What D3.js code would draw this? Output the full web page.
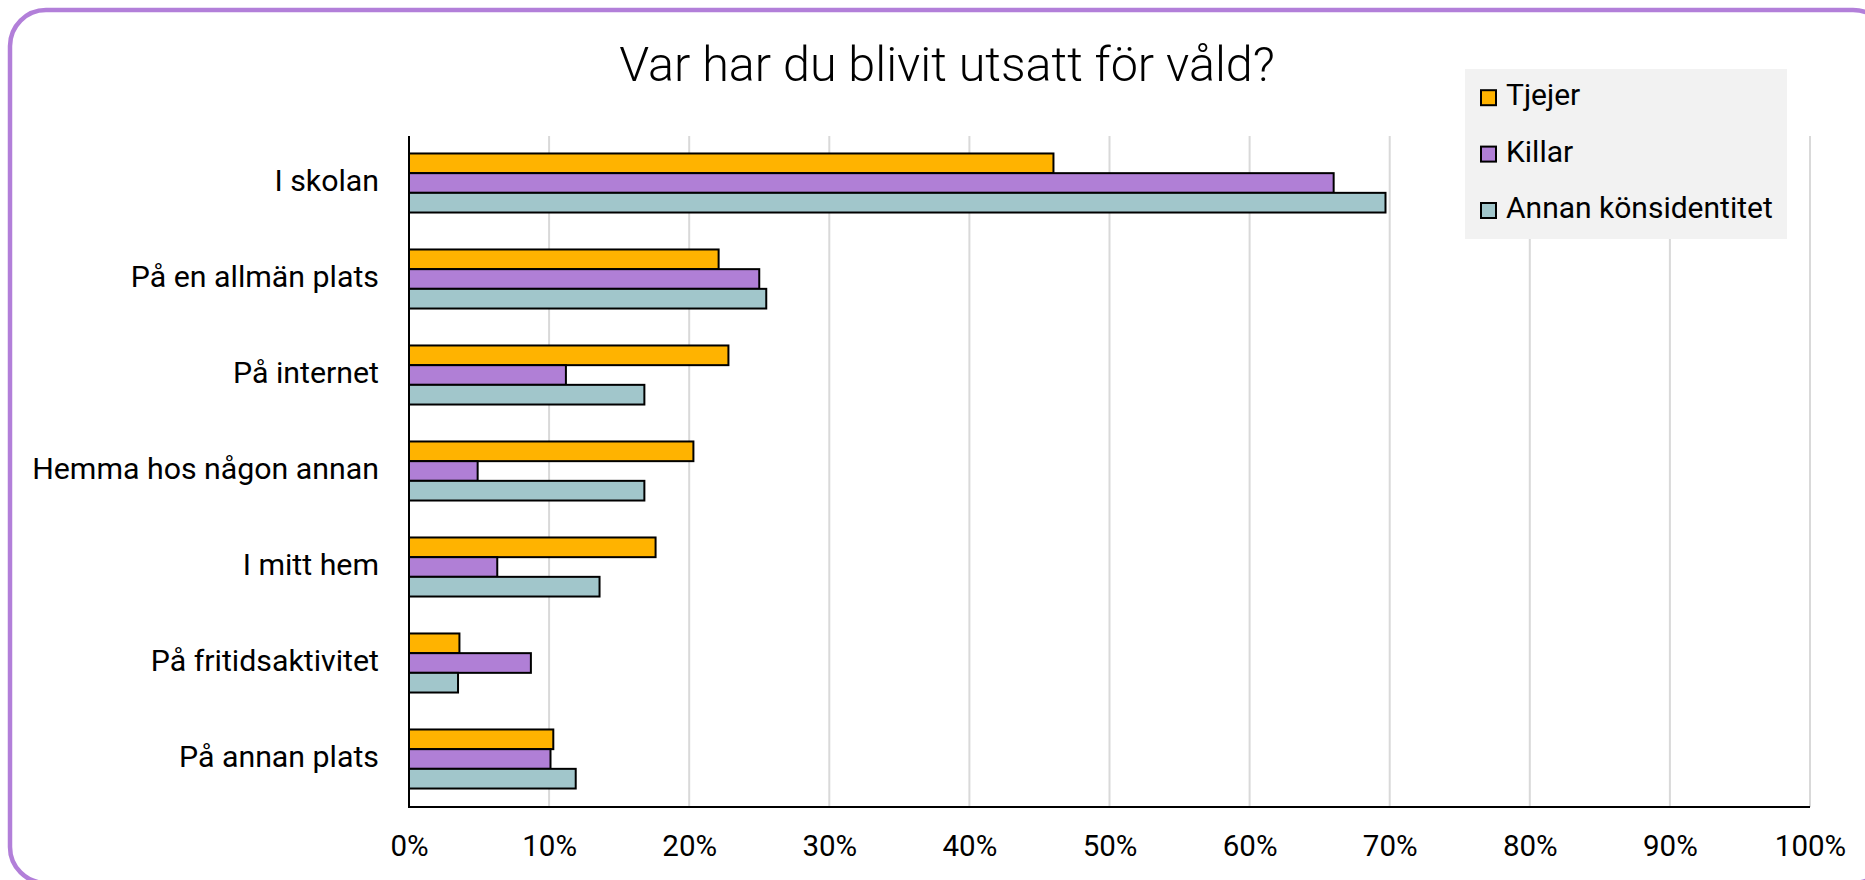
<!DOCTYPE html>
<html>
<head>
<meta charset="utf-8">
<script src="https://cdn.jsdelivr.net/npm/d3@7"></script>
<style>
    body { margin: 0; background: #fff; }
    svg { display: block; font-family: Roboto, "Noto Sans", sans-serif; }
</style>
</head>
<body>
<svg width="1865" height="880"></svg>
<script>
// data
var categories = ["I skolan", "På en allmän plats", "På internet", "Hemma hos någon annan",
    "I mitt hem", "På fritidsaktivitet", "På annan plats"];
var seriesNames = ["Tjejer", "Killar", "Annan könsidentitet"];
var tjejer = [0.46, 0.221, 0.228, 0.203, 0.176, 0.036, 0.103];
var killar = [0.66, 0.250, 0.112, 0.049, 0.063, 0.087, 0.101];
var annan = [0.697, 0.255, 0.168, 0.168, 0.136, 0.035, 0.119];
var xTicks = [0, 0.1, 0.2, 0.3, 0.4, 0.5, 0.6, 0.7, 0.8, 0.9, 1];
var colors = ["#FFB300", "#B07FD6", "#A1C6CB"];

var values = [tjejer, killar, annan];
var rows = categories.map(function (c, i) {
    return { cat: c, vals: values.map(function (s, j) { return { key: seriesNames[j], v: s[i] }; }) };
});

var svg = d3.select("svg");

// outer rounded frame
svg.append("rect")
    .attr("x", 10).attr("y", 10)
    .attr("width", 1879).attr("height", 873)
    .attr("rx", 36).attr("ry", 36)
    .attr("fill", "none")
    .attr("stroke", "#B27FD9")
    .attr("stroke-width", 4.5);

svg.append("text")
    .attr("x", 947)
    .attr("y", 81)
    .attr("text-anchor", "middle")
    .attr("font-size", 48.5)
    .attr("font-weight", 300)
    .attr("fill", "#000")
    .text("Var har du blivit utsatt för våld?");

var x = d3.scaleLinear().domain([0, 1]).range([409, 1810]);

var y = d3.scaleBand()
    .domain(categories)
    .range([135, 807])
    .paddingInner(0.385)
    .paddingOuter(0.1925);

var y1 = d3.scaleBand()
    .domain(seriesNames)
    .range([0, y.bandwidth()]);

var color = d3.scaleOrdinal().domain(seriesNames).range(colors);

// gridlines
svg.append("g")
    .selectAll("line")
    .data(xTicks.slice(1))
    .enter()
    .append("line")
    .attr("x1", function (d) { return x(d); })
    .attr("x2", function (d) { return x(d); })
    .attr("y1", 136)
    .attr("y2", 807)
    .attr("stroke", "#d9d9d9")
    .attr("stroke-width", 2);

// bars
svg.append("g")
    .selectAll("g")
    .data(rows)
    .enter()
    .append("g")
    .attr("transform", function (d) { return "translate(0," + y(d.cat) + ")"; })
    .selectAll("rect")
    .data(function (d) { return d.vals; })
    .enter()
    .append("rect")
    .attr("x", x(0))
    .attr("y", function (d) { return y1(d.key); })
    .attr("width", function (d) { return x(d.v) - x(0); })
    .attr("height", y1.bandwidth())
    .attr("fill", function (d) { return color(d.key); })
    .attr("stroke", "#000")
    .attr("stroke-width", 2);

// x axis
var x_axis = d3.axisBottom(x)
    .tickValues(xTicks)
    .tickSize(0)
    .tickPadding(28)
    .tickFormat(d3.format(".0%"));

var gx = svg.append("g")
    .attr("transform", "translate(0,807)")
    .call(x_axis);
gx.select(".domain").remove();
gx.selectAll("text")
    .attr("font-size", 29.5)
    .attr("font-family", "Roboto, sans-serif")
    .attr("fill", "#000");

// y axis
var y_axis = d3.axisLeft(y).tickSize(0).tickPadding(30);
var gy = svg.append("g")
    .attr("transform", "translate(409,0)")
    .call(y_axis);
gy.select(".domain").remove();
gy.selectAll("text")
    .attr("font-size", 30.3)
    .attr("font-family", "Roboto, sans-serif")
    .attr("dy", "0.26em")
    .attr("fill", "#000");

// axis lines
svg.append("line")
    .attr("x1", x(0)).attr("x2", x(0))
    .attr("y1", 136).attr("y2", 808)
    .attr("stroke", "#000").attr("stroke-width", 2);
svg.append("line")
    .attr("x1", x(0)).attr("x2", x(1))
    .attr("y1", 807).attr("y2", 807)
    .attr("stroke", "#000").attr("stroke-width", 2);

// legend
var legend = svg.append("g").attr("transform", "translate(1465,69)");
legend.append("rect")
    .attr("width", 322)
    .attr("height", 170)
    .attr("fill", "#f2f2f2");

var item = legend.selectAll("g.item")
    .data(seriesNames)
    .enter()
    .append("g")
    .attr("class", "item")
    .attr("transform", function (d, i) { return "translate(0," + (28.7 + i * 56.4) + ")"; });

item.append("rect")
    .attr("x", 16).attr("y", -7.5)
    .attr("width", 15).attr("height", 15)
    .attr("fill", function (d) { return color(d); })
    .attr("stroke", "#000")
    .attr("stroke-width", 2);

item.append("text")
    .attr("x", 41)
    .attr("y", 7.5)
    .attr("font-size", 30)
    .attr("fill", "#000")
    .text(function (d) { return d; });
</script>
</body>
</html>
